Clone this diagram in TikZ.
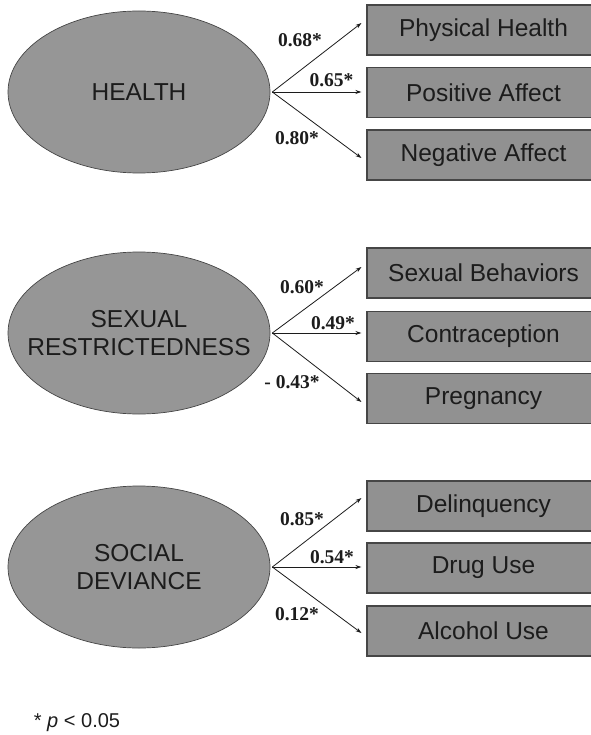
\documentclass[tikz,border=0pt]{standalone}
\usepackage{fontspec}
\setmainfont{Liberation Serif}
\setsansfont{Liberation Sans}
\usetikzlibrary{shapes.geometric,arrows.meta}
\definecolor{latentfill}{RGB}{150,150,150}
\definecolor{boxfill}{RGB}{145,145,145}
\definecolor{edgegray}{RGB}{70,70,70}
\definecolor{inkgray}{RGB}{28,28,28}
\begin{document}
\begin{tikzpicture}[x=1pt,y=-1pt,
  latent/.style={ellipse, draw=edgegray, line width=0.7pt, fill=latentfill,
    minimum width=262pt, minimum height=162pt, inner sep=0pt,
    label={[align=center, text=inkgray, font=\sffamily\fontsize{24.5}{28.5}\selectfont]center:#1}},
  indicator/.style={rectangle, draw=edgegray, line width=1.1pt, fill=boxfill,
    minimum width=233pt, minimum height=50pt, inner sep=0pt,
    text=inkgray, font=\sffamily\fontsize{24.5}{27}\selectfont},
  loading/.style={-{Stealth[length=6pt,width=4pt]}, line width=0.8pt, draw=inkgray},
  coef/.style={text=inkgray, font=\rmfamily\bfseries\fontsize{19.5}{22}\selectfont, inner sep=0pt}
]
\useasboundingbox (0,0) rectangle (590,735);

% HEALTH
\node[latent={HEALTH}] (health) at (139,92) {};
\node[indicator] (phys) at (483.5,30) {Physical Health};
\node[indicator] (posaff) at (483.5,92.5) {Positive Affect};
\node[indicator] (negaff) at (483.5,155) {Negative Affect};
\draw[loading] ([xshift=2pt]health.east) -- ([xshift=-5pt,yshift=7pt]phys.west);
\draw[loading] ([xshift=2pt]health.east) -- ([xshift=-5pt,yshift=0.5pt]posaff.west);
\draw[loading] ([xshift=2pt]health.east) -- ([xshift=-5pt,yshift=-3pt]negaff.west);
\node[coef] (c11) at (300,40) {0.68*};
\node[coef] (c12) at (331.5,80) {0.65*};
\node[coef] (c13) at (297,138) {0.80*};

% SEXUAL RESTRICTEDNESS
\node[latent={SEXUAL\\RESTRICTEDNESS}] (sexres) at (139,333) {};
\node[indicator] (sexbeh) at (483.5,273) {Sexual Behaviors};
\node[indicator] (contra) at (483.5,336.5) {Contraception};
\node[indicator] (preg) at (483.5,398.5) {Pregnancy};
\draw[loading] ([xshift=2pt]sexres.east) -- ([xshift=-5pt,yshift=6pt]sexbeh.west);
\draw[loading] ([xshift=2pt]sexres.east) -- ([xshift=-5pt,yshift=3.5pt]contra.west);
\draw[loading] ([xshift=2pt]sexres.east) -- ([xshift=-5pt,yshift=-3.5pt]preg.west);
\node[coef] (c21) at (302,287) {0.60*};
\node[coef] (c22) at (333,323) {0.49*};
\node[coef] (c23) at (292,382) {- 0.43*};

% SOCIAL DEVIANCE
\node[latent={SOCIAL\\DEVIANCE}] (socdev) at (139,567) {};
\node[indicator] (delinq) at (483.5,506) {Delinquency};
\node[indicator] (drug) at (483.5,568) {Drug Use};
\node[indicator] (alcohol) at (483.5,631) {Alcohol Use};
\draw[loading] ([xshift=2pt]socdev.east) -- ([xshift=-5pt,yshift=8pt]delinq.west);
\draw[loading] ([xshift=2pt]socdev.east) -- ([xshift=-5pt,yshift=1pt]drug.west);
\draw[loading] ([xshift=2pt]socdev.east) -- ([xshift=-5pt,yshift=-2pt]alcohol.west);
\node[coef] (c31) at (302,519) {0.85*};
\node[coef] (c32) at (332,557) {0.54*};
\node[coef] (c33) at (297,614) {0.12*};

% significance note
\node[text=inkgray, font=\sffamily\fontsize{20}{24}\selectfont, inner sep=0pt] (note) at (77,723) {* \textit{p} < 0.05};
\end{tikzpicture}
\end{document}
